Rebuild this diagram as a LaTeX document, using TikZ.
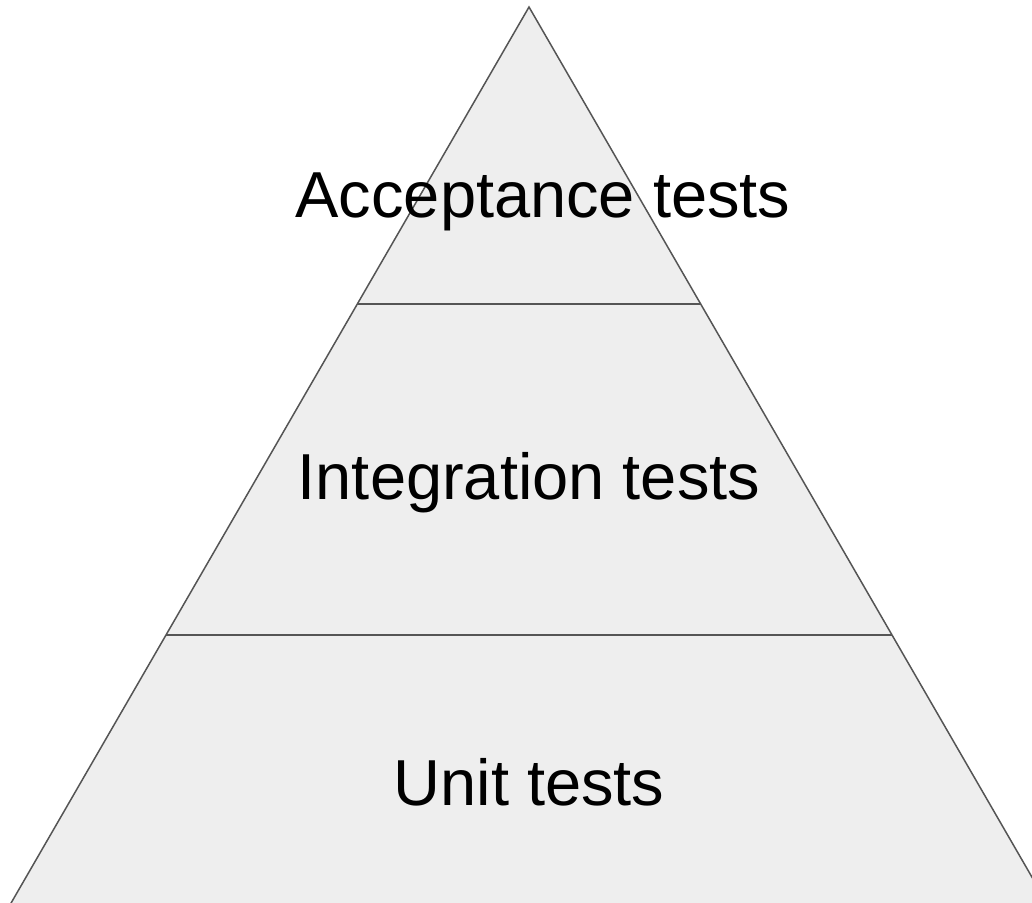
\documentclass[tikz,border=0pt]{standalone}
\usepackage{fontspec}
\setmainfont{Liberation Sans}
\usetikzlibrary{positioning, calc}

\definecolor{layerfill}{HTML}{EEEEEE}
\definecolor{edgegray}{HTML}{555555}

\begin{document}
\begin{tikzpicture}[
        x=1pt, y=-1pt,
        every node/.style={font=\fontsize{65}{72}\selectfont},
        layer/.style={fill=layerfill, draw=edgegray, line width=1.5pt, line join=miter},
        divider/.style={draw=edgegray, line width=1.5pt}
    ]

    % --- Frame ---
    \useasboundingbox (0,0) rectangle (1032,902);
    \clip (0,0) rectangle (1032,902);

    % --- Pyramid corners ---
    \coordinate (apex) at (529,7);
    \coordinate (baseL) at (10.5,904);
    \coordinate (baseR) at (1047.5,904);

    \draw[layer] (apex) -- (baseL) -- (baseR) -- cycle;

    % --- Layer borders ---
    \coordinate (d1L) at ($(apex)!0.3311!(baseL)$);
    \coordinate (d1R) at ($(apex)!0.3311!(baseR)$);
    \coordinate (d2L) at ($(apex)!0.7001!(baseL)$);
    \coordinate (d2R) at ($(apex)!0.7001!(baseR)$);
    \draw[divider] (d1L) -- (d1R);
    \draw[divider] (d2L) -- (d2R);

    % --- Labels ---
    \node (accept) at (543,202) {Acceptance tests};
    \node (integ) at (529,483) {Integration tests};
    \node (unit) at (529,782) {Unit tests};

\end{tikzpicture}
\end{document}
